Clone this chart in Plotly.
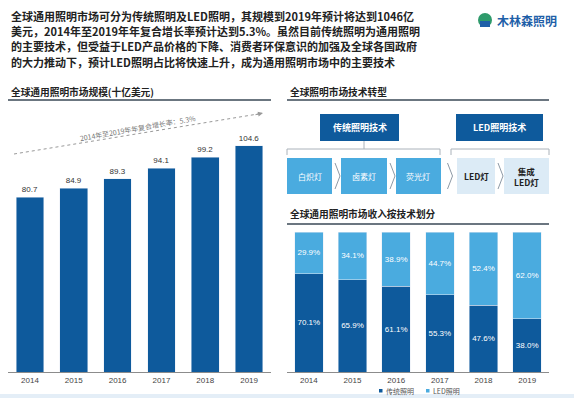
import plotly.graph_objects as go

W, H = 574, 398
FONT = "Noto Sans CJK SC, Liberation Sans, sans-serif"
NUMFONT = "Liberation Sans, Noto Sans CJK SC, sans-serif"
DARK = "#0E5A9C"
LIGHT = "#4AABDF"
PALE = "#DCEBF6"

# ---------------- data ----------------
years = ["2014", "2015", "2016", "2017", "2018", "2019"]
market_size = [80.7, 84.9, 89.3, 94.1, 99.2, 104.6]
traditional_share = [70.1, 65.9, 61.1, 55.3, 47.6, 38.0]
led_share = [29.9, 34.1, 38.9, 44.7, 52.4, 62.0]
series_names = ["传统照明", "LED照明"]

header_lines = [
    "全球通用照明市场可分为传统照明及LED照明，其规模到2019年预计将达到1046亿",
    "美元，2014年至2019年年复合增长率预计达到5.3%。虽然目前传统照明为通用照明",
    "的主要技术，但受益于LED产品价格的下降、消费者环保意识的加强及全球各国政府",
    "的大力推动下，预计LED照明占比将快速上升，成为通用照明市场中的主要技术",
]
title_left = "全球通用照明市场规模(十亿美元)"
title_tr = "全球照明市场技术转型"
title_br = "全球通用照明市场收入按技术划分"
cagr_text = "2014年至2019年年复合增长率：5.3%"
tech_groups = ["传统照明技术", "LED照明技术"]
tech_items = ["白炽灯", "卤素灯", "荧光灯", "LED灯", "集成<br>LED灯"]
logo_text = "木林森照明"


def px(x):
    return x / W


def py(y):
    return 1 - y / H


def text_ann(x, y, text, size, color, xanchor="center", yanchor="middle", **kw):
    return dict(x=px(x), y=py(y), xref="paper", yref="paper", text=text,
                showarrow=False, xanchor=xanchor, yanchor=yanchor,
                font=dict(size=size, color=color, family=kw.pop("family", FONT)), **kw)


fig = go.Figure()

fig.add_trace(go.Bar(
    x=years, y=market_size, marker_color=DARK, xaxis="x", yaxis="y",
    text=[f"{v:.1f}" for v in market_size], textposition="outside",
    textfont=dict(size=8, color="#333", family=NUMFONT), cliponaxis=False,
    showlegend=False, width=0.63,
))
fig.add_trace(go.Bar(
    x=years, y=traditional_share, name=series_names[0], marker_color=DARK,
    xaxis="x2", yaxis="y2", text=[f"{v:.1f}%" for v in traditional_share],
    textposition="inside", insidetextanchor="middle", textangle=0,
    textfont=dict(size=8, color="white", family=NUMFONT), width=0.65,
    showlegend=False,
))
fig.add_trace(go.Bar(
    x=years, y=led_share, name=series_names[1], marker_color=LIGHT,
    xaxis="x2", yaxis="y2", text=[f"{v:.1f}%" for v in led_share],
    textposition="inside", insidetextanchor="middle", textangle=0,
    textfont=dict(size=8, color="white", family=NUMFONT), width=0.65,
    showlegend=False,
))

shapes = []
ann = []

# header text
for i, line in enumerate(header_lines):
    ann.append(text_ann(9, 16 + i * 15.2, f"<b>{line}</b>", 11, "#222",
                        xanchor="left"))

# logo
shapes.append(dict(type="circle", xref="paper", yref="paper",
                   x0=px(478), x1=px(492), y0=py(27), y1=py(13),
                   fillcolor="#2E9A6B", line=dict(width=0)))
shapes.append(dict(type="rect", xref="paper", yref="paper",
                   x0=px(480), x1=px(490), y0=py(27), y1=py(21),
                   fillcolor="#1F5FA8", line=dict(width=0)))
ann.append(text_ann(495, 20, f"<b>{logo_text}</b>", 12, "#1F5FA8", xanchor="left"))

# section titles + underlines
for (tx, ty, t, x0, x1, ly) in [(9, 92, title_left, 8, 271, 100),
                                (288, 92, title_tr, 287, 549, 100),
                                (288, 214, title_br, 287, 549, 224)]:
    ann.append(text_ann(tx, ty, f"<b>{t}</b>", 9.7, "#222", xanchor="left"))
    shapes.append(dict(type="line", xref="paper", yref="paper",
                       x0=px(x0), x1=px(x1), y0=py(ly), y1=py(ly),
                       line=dict(color="#3A4856", width=1.5)))

# CAGR arrow
shapes.append(dict(type="line", xref="paper", yref="paper",
                   x0=px(14), y0=py(154), x1=px(258), y1=py(114),
                   line=dict(color="#999", width=1, dash="dot")))
ann.append(dict(x=px(263), y=py(113), ax=-9, ay=2,
                xref="paper", yref="paper", axref="pixel", ayref="pixel",
                showarrow=True, arrowhead=2, arrowsize=1, arrowwidth=1,
                arrowcolor="#999", text=""))
ann.append(text_ann(138, 128, cagr_text, 7, "#777", textangle=-10))

# tech transformation diagram
group_boxes = [(320, 399), (456, 543)]
for (x0, x1), t in zip(group_boxes, tech_groups):
    shapes.append(dict(type="rect", xref="paper", yref="paper",
                       x0=px(x0), x1=px(x1), y0=py(141), y1=py(114),
                       fillcolor=DARK, line=dict(width=0)))
    ann.append(text_ann((x0 + x1) / 2, 127.5, f"<b>{t}</b>", 9, "white"))

# brackets
for (x0, x1) in [(287, 440), (451, 549)]:
    shapes.append(dict(type="path", xref="paper", yref="paper",
                       path=f"M {px(x0)} {py(155)} L {px(x0)} {py(149)} L {px(x1)} {py(149)} L {px(x1)} {py(155)}",
                       line=dict(color="#AAB2BA", width=1)))
shapes.append(dict(type="line", xref="paper", yref="paper",
                   x0=px(364), x1=px(364), y0=py(141), y1=py(149),
                   line=dict(color="#AAB2BA", width=1)))

item_boxes = [(287, 332), (341, 387), (396, 441), (457, 495), (504, 549)]
for i, ((x0, x1), t) in enumerate(zip(item_boxes, tech_items)):
    fill = LIGHT if i < 3 else PALE
    col = "white" if i < 3 else "#222"
    shapes.append(dict(type="rect", xref="paper", yref="paper",
                       x0=px(x0), x1=px(x1), y0=py(194), y1=py(158),
                       fillcolor=fill, line=dict(width=0)))
    ann.append(text_ann((x0 + x1) / 2, 176, f"<b>{t}</b>" if i >= 3 else t,
                        8.5 if i >= 3 else 8, col))
    if i < 4:
        cx = x1 + 2
        nx = item_boxes[i + 1][0]
        mid = (cx + nx) / 2
        shapes.append(dict(type="path", xref="paper", yref="paper",
                           path=f"M {px(mid - 2.5)} {py(163)} L {px(mid + 2.5)} {py(176)} L {px(mid - 2.5)} {py(189)}",
                           line=dict(color="#8E9AA6", width=1)))

# compact legend
for (sx, col, name) in [(379, DARK, series_names[0]), (426, LIGHT, series_names[1])]:
    shapes.append(dict(type="rect", xref="paper", yref="paper",
                       x0=px(sx), x1=px(sx + 3.5), y0=py(392.5), y1=py(389),
                       fillcolor=col, line=dict(width=0)))
    ann.append(text_ann(sx + 5, 390.5, name, 7, "#555", xanchor="left"))

# bottom strip
shapes.append(dict(type="rect", xref="paper", yref="paper",
                   x0=0, x1=1, y0=0, y1=py(394), fillcolor="#E4EEF7",
                   line=dict(width=0), layer="below"))

axis_common = dict(showgrid=False, zeroline=False, showline=True,
                   linecolor="#8C8C8C", linewidth=1, ticks="",
                   tickfont=dict(size=8, color="#444", family=NUMFONT),
                   type="category", fixedrange=True, automargin=False)

fig.update_layout(
    width=W, height=H, margin=dict(l=0, r=0, t=0, b=0, autoexpand=False),
    paper_bgcolor="white", plot_bgcolor="rgba(0,0,0,0)",
    barmode="stack", bargap=0.37, showlegend=False,
    font=dict(family=FONT),
    uniformtext=dict(minsize=8, mode="show"),
    xaxis=dict(domain=[px(8), px(271)], anchor="y", **axis_common),
    yaxis=dict(domain=[py(372), py(120)], range=[0, 116.4], visible=False,
               anchor="x", fixedrange=True),
    xaxis2=dict(domain=[px(287), px(549)], anchor="y2", **axis_common),
    yaxis2=dict(domain=[py(372), py(232)], range=[0, 100], visible=False,
                anchor="x2", fixedrange=True),
    shapes=shapes, annotations=ann,
)

fig.write_html("out.html", config={"displayModeBar": False},
               post_script="document.body.style.margin='0';document.body.style.overflow='hidden';")
